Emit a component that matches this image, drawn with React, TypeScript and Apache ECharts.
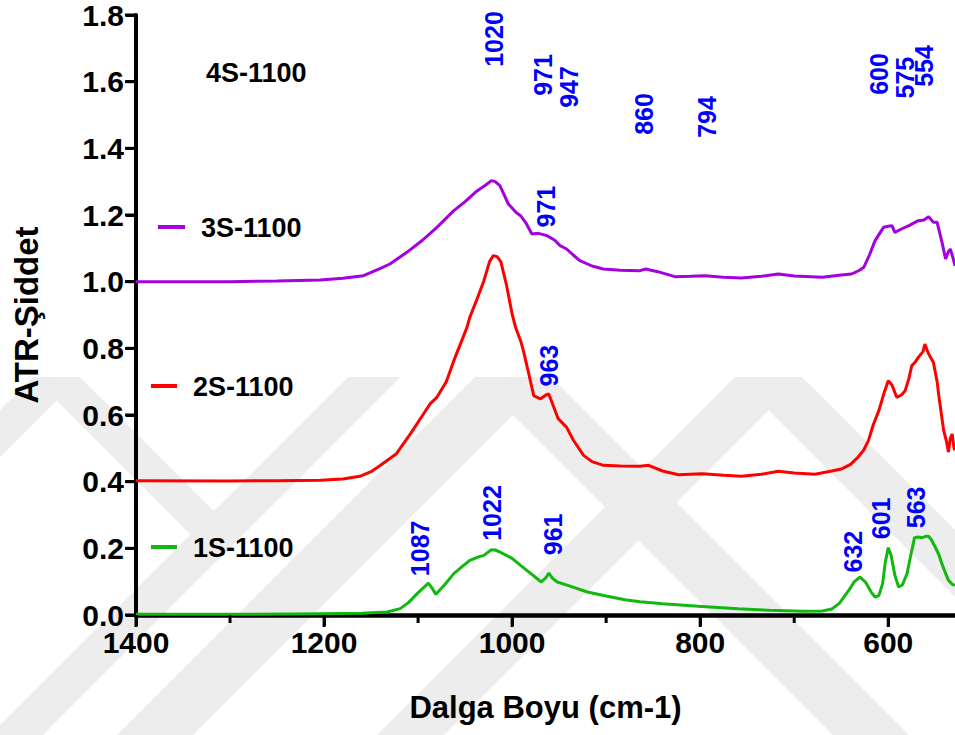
import React, { useEffect, useRef } from 'react';
import * as echarts from 'echarts';

// Wavenumber (cm-1), intensity
const s3S: number[][] = [
  [1400, 1.0], [1300, 1.0], [1250, 1.002], [1204, 1.005], [1180, 1.01], [1158, 1.018], [1140, 1.04], [1130, 1.053],
  [1112, 1.088], [1095, 1.125], [1080, 1.163], [1062, 1.213], [1050, 1.24], [1037, 1.273], [1028, 1.29], [1022, 1.303],
  [1018, 1.3], [1013, 1.288], [1004, 1.233], [996, 1.208], [991, 1.198], [985, 1.175], [979, 1.143], [972, 1.145],
  [963, 1.138], [955, 1.125], [949, 1.108], [942, 1.098], [935, 1.08], [928, 1.063], [915, 1.047], [903, 1.038],
  [885, 1.034], [864, 1.033], [858, 1.038], [845, 1.03], [827, 1.015], [810, 1.016], [795, 1.018], [775, 1.013],
  [756, 1.011], [735, 1.016], [717, 1.023], [700, 1.017], [670, 1.013], [650, 1.02], [639, 1.023], [630, 1.035],
  [626, 1.043], [620, 1.08], [614, 1.123], [605, 1.163], [600, 1.166], [596, 1.168], [593, 1.148], [586, 1.158],
  [578, 1.168], [568, 1.183], [562, 1.185], [557, 1.195], [552, 1.178], [548, 1.178], [543, 1.12], [539, 1.068],
  [536, 1.09], [534, 1.098], [531, 1.07], [529, 1.048],
];

const s2S: number[][] = [
  [1400, 0.403], [1300, 0.402], [1250, 0.403], [1204, 0.404], [1180, 0.408], [1162, 0.416], [1150, 0.43], [1140, 0.449],
  [1123, 0.484], [1108, 0.544], [1095, 0.6], [1087, 0.634], [1080, 0.653], [1070, 0.7], [1062, 0.763], [1048, 0.863],
  [1045, 0.893], [1038, 0.943], [1030, 1.003], [1024, 1.06], [1020, 1.078], [1016, 1.075], [1012, 1.06], [1006, 0.99],
  [1000, 0.903], [996, 0.86], [991, 0.823], [988, 0.793], [982, 0.72], [977, 0.658], [970, 0.648], [964, 0.66],
  [961, 0.663], [951, 0.589], [942, 0.563], [935, 0.525], [924, 0.479], [915, 0.46], [903, 0.449], [885, 0.447],
  [864, 0.446], [855, 0.449], [840, 0.432], [823, 0.421], [798, 0.424], [775, 0.419], [756, 0.416], [735, 0.422],
  [717, 0.431], [700, 0.426], [678, 0.422], [660, 0.432], [649, 0.439], [640, 0.452], [632, 0.474], [626, 0.495],
  [621, 0.524], [616, 0.57], [610, 0.613], [604, 0.67], [600, 0.703], [596, 0.69], [591, 0.653], [586, 0.66],
  [582, 0.673], [578, 0.71], [575, 0.748], [571, 0.76], [568, 0.773], [563, 0.79], [561, 0.813], [558, 0.79],
  [557, 0.783], [552, 0.758], [548, 0.7], [546, 0.653], [541, 0.553], [538, 0.52], [536, 0.489], [534, 0.53],
  [532, 0.543], [530, 0.5], [529, 0.494],
];

const s1S: number[][] = [
  [1400, 0.002], [1300, 0.002], [1204, 0.004], [1160, 0.005], [1133, 0.009], [1119, 0.019], [1110, 0.038], [1101, 0.064],
  [1093, 0.085], [1089, 0.096], [1085, 0.08], [1081, 0.062], [1072, 0.09], [1062, 0.124], [1052, 0.148], [1045, 0.164],
  [1035, 0.175], [1030, 0.179], [1022, 0.196], [1018, 0.195], [1013, 0.189], [1000, 0.17], [991, 0.149], [980, 0.124],
  [969, 0.099], [964, 0.112], [961, 0.126], [957, 0.11], [952, 0.099], [940, 0.088], [920, 0.069], [900, 0.057],
  [880, 0.046], [864, 0.04], [840, 0.034], [802, 0.026], [760, 0.019], [727, 0.014], [690, 0.011], [670, 0.012],
  [660, 0.018], [652, 0.035], [642, 0.074], [636, 0.1], [630, 0.114], [624, 0.098], [618, 0.068], [614, 0.054],
  [610, 0.058], [606, 0.094], [603, 0.16], [600, 0.202], [597, 0.18], [593, 0.12], [589, 0.084], [585, 0.09],
  [580, 0.124], [576, 0.18], [572, 0.232], [568, 0.234], [564, 0.232], [560, 0.236], [557, 0.236], [554, 0.225],
  [550, 0.204], [546, 0.18], [543, 0.154], [539, 0.125], [536, 0.104], [532, 0.092], [529, 0.089],
];

// Peak annotations: [x position, y position, text]
const peakLabels: (number | string)[][] = [
  [1019, 1.728, '1020'], [967, 1.62, '971'], [940, 1.584, '947'], [860, 1.503, '860'], [793, 1.494, '794'],
  [610, 1.623, '600'], [582, 1.612, '575'], [562, 1.647, '554'],
  [964, 1.225, '971'],
  [961, 0.748, '963'],
  [1098, 0.2, '1087'], [1021, 0.306, '1022'], [957, 0.242, '961'], [638, 0.19, '632'], [608, 0.29, '601'], [571, 0.323, '563'],
];

const yTicks = [0, 0.2, 0.4, 0.6, 0.8, 1.0, 1.2, 1.4, 1.6, 1.8];
const majorTicks = [1400, 1200, 1000, 800, 600];
const minorTicks = [1300, 1100, 900, 700];
const X_MIN = 529;
const X_MAX = 1400;
const Y_MIN = 0;
const Y_MAX = 1.8;

const FONT = '"Liberation Sans", Arial, Helvetica, sans-serif';
const WM = '#ededed';
const GRID = { left: 136, right: 0, top: 14, bottom: 120 };
const W = 955;
const H = 735;

function poly(points: number[][]) {
  return { type: 'polygon', silent: true, z: -10, shape: { points }, style: { fill: WM } };
}

export default function App() {
  const ref = useRef<HTMLDivElement>(null);
  useEffect(() => {
    const chart = echarts.init(ref.current!, null, { renderer: 'svg' });
    const lineSeries = (name: string, data: number[][], color: string) => ({
      name, type: 'line', data, showSymbol: false, symbol: 'none', z: 3,
      lineStyle: { color, width: 3 }, itemStyle: { color },
    });
    const option: any = {
      animation: false,
      backgroundColor: '#fff',
      grid: { ...GRID, containLabel: false },
      xAxis: {
        type: 'value', inverse: true, min: X_MIN, max: X_MAX,
        name: 'Dalga Boyu (cm-1)', nameLocation: 'middle', nameGap: 77,
        nameTextStyle: { fontSize: 31, fontWeight: 'bold', color: '#000', fontFamily: FONT },
        axisLine: { show: true, onZero: false, lineStyle: { color: '#000', width: 4.5 } },
        axisTick: { show: true, inside: false, customValues: majorTicks, length: 11, lineStyle: { color: '#000', width: 3 } },
        axisLabel: {
          show: true, customValues: majorTicks, fontSize: 30, fontWeight: 'bold', color: '#000', fontFamily: FONT, margin: 12,
          formatter: (v: number) => String(v),
        },
        splitLine: { show: false },
      },
      yAxis: {
        type: 'value', min: Y_MIN, max: Y_MAX, interval: 0.2,
        name: 'ATR-Şiddet', nameLocation: 'middle', nameGap: 93, nameRotate: 90,
        nameTextStyle: { fontSize: 33, fontWeight: 'bold', color: '#000', fontFamily: FONT },
        axisLine: { show: true, onZero: false, lineStyle: { color: '#000', width: 4 } },
        axisTick: { show: true, inside: false, length: 10, lineStyle: { color: '#000', width: 3 } },
        axisLabel: { fontSize: 30, fontWeight: 'bold', color: '#000', fontFamily: FONT, margin: 12, formatter: (v: number) => v.toFixed(1) },
        splitLine: { show: false },
      },
      series: [
        lineSeries('3S-1100', s3S, '#a400e0'),
        lineSeries('2S-1100', s2S, '#ff0000'),
        lineSeries('1S-1100', s1S, '#10b810'),
        {
          name: 'peaks', type: 'scatter', data: peakLabels, symbolSize: 1, z: 4,
          itemStyle: { color: 'rgba(0,0,0,0)', opacity: 1 },
          label: {
            show: true, position: 'inside', rotate: 90, formatter: (p: any) => p.data[2],
            fontSize: 25, fontWeight: 'bold', color: '#0000ff', fontFamily: FONT, opacity: 1,
          },
          silent: true,
        },
      ],
    };
    chart.setOption(option);

    const xPx = (v: number) => {
      let p: any = null;
      try { p = chart.convertToPixel({ xAxisIndex: 0 } as any, v); } catch (e) { p = null; }
      if (typeof p !== 'number' || !isFinite(p)) {
        const w = W - GRID.left - GRID.right;
        p = GRID.left + ((X_MAX - v) / (X_MAX - X_MIN)) * w;
      }
      return p as number;
    };
    const yPx = (v: number) => {
      let p: any = null;
      try { p = chart.convertToPixel({ yAxisIndex: 0 } as any, v); } catch (e) { p = null; }
      if (typeof p !== 'number' || !isFinite(p)) {
        const h = H - GRID.top - GRID.bottom;
        p = GRID.top + ((Y_MAX - v) / (Y_MAX - Y_MIN)) * h;
      }
      return p as number;
    };
    const x0 = xPx(X_MAX);
    const y0 = yPx(0);
    const tickEls: any[] = [];
    const rect = (x: number, y: number, w: number, h: number) => ({
      type: 'rect', z: 50, shape: { x, y, width: w, height: h }, style: { fill: '#000' },
    });
    yTicks.forEach((v) => {
      const py = yPx(v);
      tickEls.push(rect(x0 - 11, py - 1.5, 11, 3));
    });
    majorTicks.forEach((v) => {
      const px = xPx(v);
      tickEls.push(rect(px - 1.5, y0, 3, 12));
    });
    minorTicks.forEach((v) => {
      const px = xPx(v);
      tickEls.push(rect(px - 1.5, y0, 3, 8));
    });

    chart.setOption({
      graphic: {
        elements: [
          poly([[33, 377], [80, 377], [0, 457], [0, 410]]),
          poly([[33, 377], [80, 377], [214, 511], [190.5, 534.5]]),
          poly([[348, 377], [401, 377], [43, 735], [0, 735], [0, 725]]),
          poly([[475, 377], [551, 377], [909, 735], [833, 735]]),
          poly([[475, 377], [551, 377], [193, 735], [117, 735]]),
          poly([[735, 377], [802, 377], [444, 735], [377, 735]]),
          poly([[735, 377], [802, 377], [955, 530], [955, 597]]),
          ...tickEls,
          { type: 'text', x: 206, y: 73, style: { text: '4S-1100', font: `bold 27px ${FONT}`, fill: '#000', verticalAlign: 'middle' } },
          { type: 'line', shape: { x1: 158, y1: 227, x2: 185, y2: 227 }, style: { stroke: '#a400e0', lineWidth: 4 } },
          { type: 'text', x: 201, y: 228, style: { text: '3S-1100', font: `bold 27px ${FONT}`, fill: '#000', verticalAlign: 'middle' } },
          { type: 'line', shape: { x1: 151, y1: 386, x2: 177, y2: 386 }, style: { stroke: '#ff0000', lineWidth: 4 } },
          { type: 'text', x: 193, y: 387, style: { text: '2S-1100', font: `bold 27px ${FONT}`, fill: '#000', verticalAlign: 'middle' } },
          { type: 'line', shape: { x1: 151, y1: 547, x2: 177, y2: 547 }, style: { stroke: '#10b810', lineWidth: 4 } },
          { type: 'text', x: 193, y: 548, style: { text: '1S-1100', font: `bold 27px ${FONT}`, fill: '#000', verticalAlign: 'middle' } },
        ],
      },
    });
    return () => chart.dispose();
  }, []);
  return <div ref={ref} style={{ position: 'fixed', left: 0, top: 0, width: 955, height: 735, background: '#fff' }} />;
}
